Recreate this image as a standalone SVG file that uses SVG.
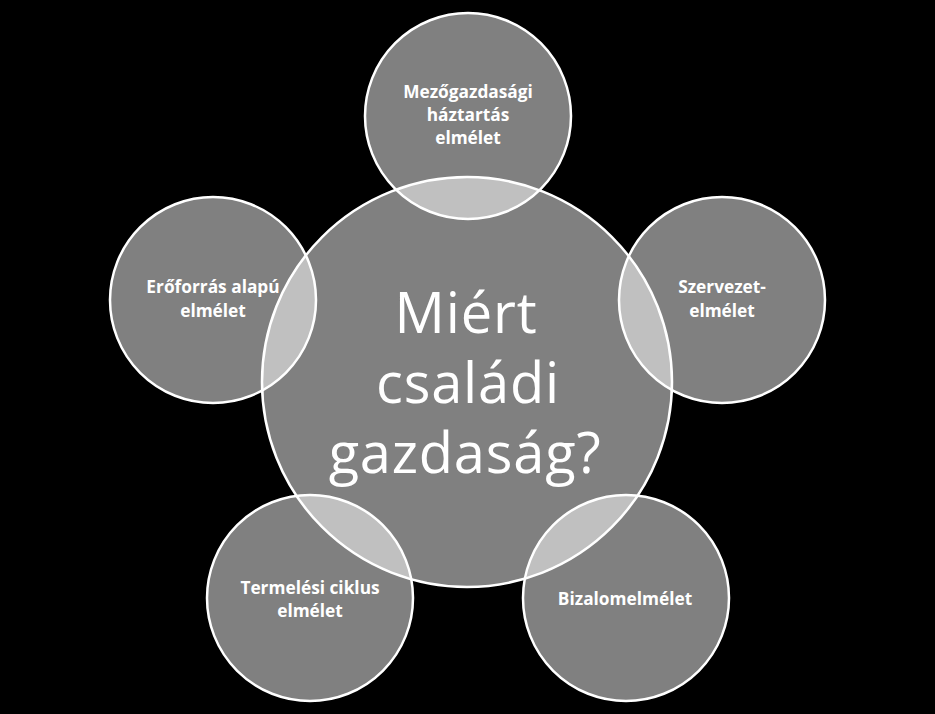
<svg xmlns="http://www.w3.org/2000/svg" width="935" height="714" viewBox="0 0 935 714">
  <style>
    .c { fill: #ffffff; fill-opacity: 0.5; stroke: #ffffff; stroke-width: 2.5; }
    .s { font-family: "Open Sans", "Liberation Sans", sans-serif; font-weight: 700; font-size: 17.3px; fill: #ffffff; text-anchor: middle; }
    .big { font-family: "Open Sans", "Liberation Sans", sans-serif; font-weight: 400; font-size: 56px; fill: #ffffff; text-anchor: middle; letter-spacing: 0.8px; }
  </style>
  <rect x="0" y="0" width="935" height="714" fill="#000000"/>
  <g id="center">
    <circle class="c" cx="467" cy="382" r="205"/>
  </g>
  <g id="top">
    <circle class="c" cx="468" cy="116" r="103"/>
  </g>
  <g id="right">
    <circle class="c" cx="722" cy="300" r="103"/>
  </g>
  <g id="left">
    <circle class="c" cx="213" cy="300" r="103"/>
  </g>
  <g id="bottom-left">
    <circle class="c" cx="310" cy="598" r="103"/>
  </g>
  <g id="bottom-right">
    <circle class="c" cx="626" cy="598" r="103"/>
  </g>
  <g id="labels">
    <text class="big" x="466" y="333">Miért</text>
    <text class="big" x="468" y="403">családi</text>
    <text class="big" x="465" y="473">gazdaság?</text>
    <text class="s" x="468" y="98">Mezőgazdasági</text>
    <text class="s" x="468" y="121">háztartás</text>
    <text class="s" x="468" y="144">elmélet</text>
    <text class="s" x="213" y="293">Erőforrás alapú</text>
    <text class="s" x="213" y="317">elmélet</text>
    <text class="s" x="722" y="293">Szervezet-</text>
    <text class="s" x="722" y="317">elmélet</text>
    <text class="s" x="310" y="594">Termelési ciklus</text>
    <text class="s" x="310" y="617">elmélet</text>
    <text class="s" x="625" y="605">Bizalomelmélet</text>
  </g>
</svg>
